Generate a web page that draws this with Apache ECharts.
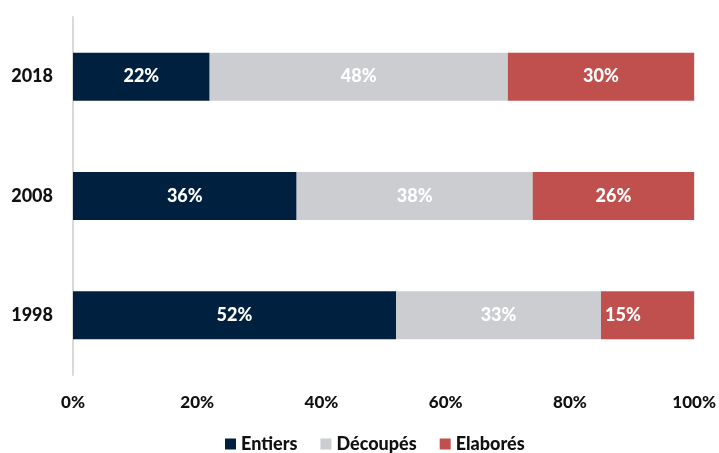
<!DOCTYPE html>
<html>
<head>
<meta charset="utf-8">
<script src="https://cdn.jsdelivr.net/npm/echarts@6/dist/echarts.min.js"></script>
<style>
  html, body { margin: 0; padding: 0; background: #fff; }
  #chart { width: 719px; height: 453px; }
</style>
</head>
<body>
<div id="chart"></div>
<script>
// Years, bottom to top
const years = ['1998', '2008', '2018'];
// Shares by product form (%)
const entiers = [52, 36, 22];
const decoupes = [33, 38, 48];
const elabores = [15, 26, 30];
const xTicks = [0, 20, 40, 60, 80, 100];

const FONT = 'Lato, "Open Sans", sans-serif';
const WEIGHT = 900;

const labelStyle = {
  show: true,
  color: '#ffffff',
  fontFamily: FONT,
  fontWeight: WEIGHT,
  fontSize: 18,
  formatter: p => p.value + '%'
};

const chart = echarts.init(document.getElementById('chart'), null, { renderer: 'canvas' });
chart.setOption({
  animation: false,
  backgroundColor: '#ffffff',
  grid: { left: 73, right: 24, top: 17, bottom: 78, containLabel: false },
  legend: {
    bottom: -5,
    left: 220,
    itemWidth: 11,
    itemHeight: 11,
    itemGap: 23,
    icon: 'rect',
    textStyle: { fontFamily: FONT, fontWeight: WEIGHT, fontSize: 18, color: '#111' },
    data: ['Entiers', 'Découpés', 'Elaborés']
  },
  xAxis: {
    type: 'value',
    min: 0,
    max: 100,
    interval: 20,
    axisLine: { show: false },
    axisTick: { show: false },
    splitLine: { show: false },
    axisLabel: {
      margin: 19,
      color: '#111',
      fontFamily: FONT,
      fontWeight: WEIGHT,
      fontSize: 17,
      formatter: v => (xTicks.includes(v) ? v + '%' : '')
    }
  },
  yAxis: {
    type: 'category',
    data: years,
    axisLine: { show: true, lineStyle: { color: '#d9d9d9', width: 2 } },
    axisTick: { show: false },
    axisLabel: {
      margin: 20,
      color: '#111',
      fontFamily: FONT,
      fontWeight: WEIGHT,
      fontSize: 18
    }
  },
  series: [
    {
      name: 'Entiers', type: 'bar', stack: 'total', barWidth: 48,
      itemStyle: { color: '#00203f' },
      label: labelStyle,
      data: entiers
    },
    {
      name: 'Découpés', type: 'bar', stack: 'total', barWidth: 48,
      itemStyle: { color: '#cbcdd1' },
      label: labelStyle,
      data: decoupes
    },
    {
      name: 'Elaborés', type: 'bar', stack: 'total', barWidth: 48,
      itemStyle: { color: '#c0504d' },
      label: labelStyle,
      data: elabores.map((v, i) => i === 0
        ? { value: v, label: { position: 'insideLeft', distance: 4 } }
        : v)
    }
  ]
});
</script>
</body>
</html>
